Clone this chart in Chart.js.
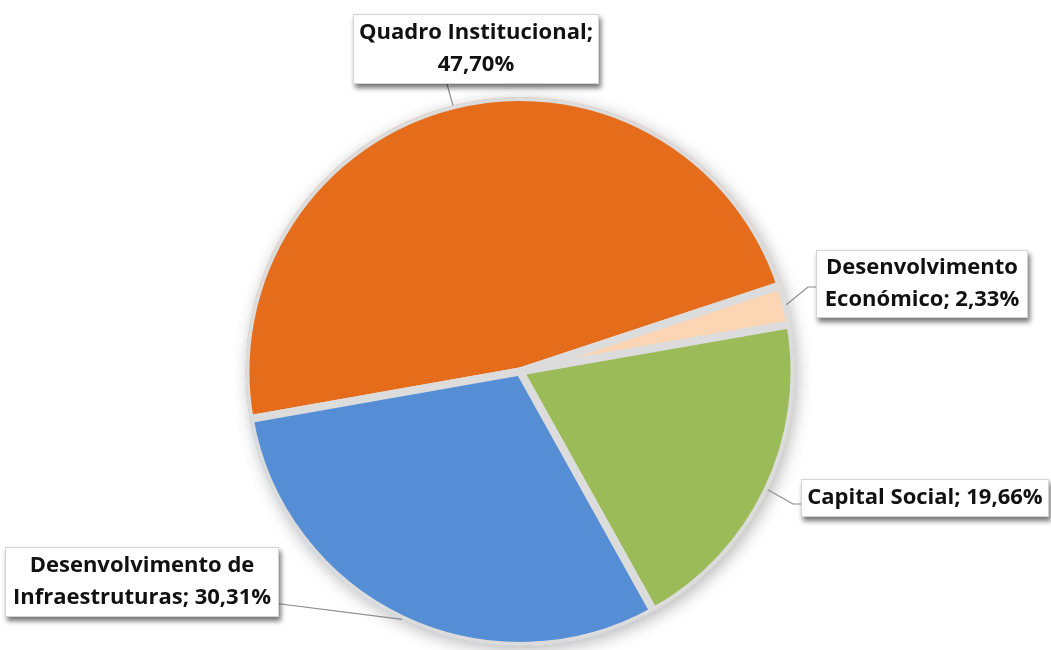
<!DOCTYPE html>
<html lang="pt">
<head>
    <meta charset="UTF-8">
    <title>Distribuição</title>
    <script src="https://cdn.jsdelivr.net/npm/chart.js"></script>
    <style>
        html, body { margin: 0; padding: 0; background: #fff; }
        #wrap { width: 1051px; height: 650px; }
    </style>
</head>
<body>
<div id="wrap"><canvas id="pieChart" width="1051" height="650"></canvas></div>
<script>
    // data
    const categories = ['Quadro Institucional', 'Desenvolvimento Económico', 'Capital Social', 'Desenvolvimento de Infraestruturas'];
    const values = [47.70, 2.33, 19.66, 30.31];
    const labelLines = [
        ['Quadro Institucional;', '47,70%'],
        ['Desenvolvimento', 'Económico; 2,33%'],
        ['Capital Social; 19,66%'],
        ['Desenvolvimento de', 'Infraestruturas; 30,31%']
    ];
    const colors = ['#E46C1A', '#FCD5B5', '#9BBB59', '#558ED5'];

    // callout boxes: centre x, centre y, width, height
    const boxes = [
        { cx: 476, cy: 49, w: 246, h: 70, side: 'bottom', lx: 447 },
        { cx: 922, cy: 284, w: 212, h: 68, side: 'left' },
        { cx: 925, cy: 498, w: 248, h: 38, side: 'left' },
        { cx: 142, cy: 582, w: 274, h: 70, side: 'right' }
    ];

    const calloutPlugin = {
        id: 'callouts',
        beforeDatasetsDraw(chart) {
            const ctx = chart.ctx;
            const a = chart.getDatasetMeta(0).data[0];
            // soft halo under the pie
            ctx.save();
            ctx.shadowColor = 'rgba(0,0,0,0.28)';
            ctx.shadowBlur = 16;
            ctx.shadowOffsetX = 3;
            ctx.shadowOffsetY = 4;
            ctx.fillStyle = '#ffffff';
            ctx.beginPath();
            ctx.arc(a.x, a.y, a.outerRadius, 0, Math.PI * 2);
            ctx.fill();
            ctx.restore();
            // keep the gap strokes inside the disc
            ctx.save();
            ctx.beginPath();
            ctx.arc(a.x, a.y, a.outerRadius, 0, Math.PI * 2);
            ctx.clip();
        },
        afterDatasetsDraw(chart) {
            const ctx = chart.ctx;
            ctx.restore();
            const arcs = chart.getDatasetMeta(0).data;
            arcs.forEach((arc, i) => {
                const b = boxes[i];
                const mid = (arc.startAngle + arc.endAngle) / 2;
                const ax = arc.x + Math.cos(mid) * arc.outerRadius;
                const ay = arc.y + Math.sin(mid) * arc.outerRadius;
                // leader line
                ctx.save();
                ctx.strokeStyle = '#8c8c8c';
                ctx.lineWidth = 1.2;
                ctx.beginPath();
                if (b.side === 'bottom') {
                    ctx.moveTo(b.lx, b.cy + b.h / 2);
                    ctx.lineTo(ax, ay);
                } else if (b.side === 'left') {
                    const bx = b.cx - b.w / 2;
                    ctx.moveTo(bx, b.cy + (i === 2 ? 6 : 3));
                    ctx.lineTo(bx - 8, b.cy + (i === 2 ? 6 : 3));
                    ctx.lineTo(ax, ay);
                } else {
                    const bx = b.cx + b.w / 2;
                    ctx.moveTo(bx - 6, b.cy + 21);
                    ctx.lineTo(ax, ay);
                }
                ctx.stroke();
                ctx.restore();

                // box with drop shadow
                ctx.save();
                ctx.shadowColor = 'rgba(0,0,0,0.55)';
                ctx.shadowBlur = 5;
                ctx.shadowOffsetX = 2;
                ctx.shadowOffsetY = 4;
                ctx.fillStyle = '#ffffff';
                ctx.fillRect(b.cx - b.w / 2, b.cy - b.h / 2, b.w, b.h);
                ctx.restore();
                ctx.save();
                ctx.strokeStyle = '#d4d4d4';
                ctx.lineWidth = 1;
                ctx.strokeRect(b.cx - b.w / 2 + 0.5, b.cy - b.h / 2 + 0.5, b.w - 1, b.h - 1);

                // text
                const lines = labelLines[i];
                ctx.fillStyle = '#111111';
                ctx.font = 'bold 22px "Open Sans"';
                ctx.textAlign = 'center';
                ctx.textBaseline = 'middle';
                const lh = 32;
                lines.forEach((t, k) => {
                    ctx.fillText(t, b.cx, b.cy + (k - (lines.length - 1) / 2) * lh);
                });
                ctx.restore();
            });
        }
    };

    new Chart(document.getElementById('pieChart'), {
        type: 'pie',
        data: {
            labels: categories,
            datasets: [{
                data: values,
                backgroundColor: colors,
                borderColor: '#dcdcdc',
                borderWidth: 8,
                hoverBorderWidth: 8,
                hoverOffset: 0
            }]
        },
        options: {
            responsive: false,
            animation: false,
            rotation: 260,
            layout: { padding: { top: 93, bottom: 0, left: 0, right: 11 } },
            plugins: {
                legend: { display: false },
                tooltip: { enabled: false }
            },
            events: []
        },
        plugins: [calloutPlugin]
    });
</script>
</body>
</html>
